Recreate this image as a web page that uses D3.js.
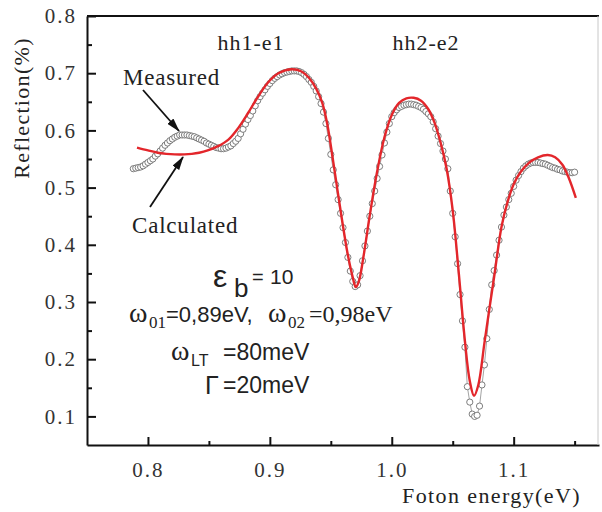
<!DOCTYPE html>
<html>
<head>
<meta charset="utf-8">
<script src="https://d3js.org/d3.v7.min.js"></script>
<style>
  body { margin: 0; background: #fff; }
</style>
</head>
<body>
<div id="main"></div>
<script>
const ctx = {
    w: 602,
    h: 512,
    left: 87,
    right: 599,
    top: 16,
    bottom: 445,
    SERIF: "'Liberation Serif', 'Times New Roman', serif",
    SANS: "'Liberation Sans', Arial, sans-serif"
};

// measured reflection (open circles)
const measEnergy = [
    0.788, 0.790, 0.792, 0.794, 0.796, 0.798, 0.800, 0.802, 0.804, 0.806,
    0.808, 0.810, 0.812, 0.814, 0.816, 0.818, 0.820, 0.822, 0.824, 0.826,
    0.828, 0.830, 0.832, 0.834, 0.836, 0.838, 0.840, 0.842, 0.844, 0.846,
    0.848, 0.850, 0.852, 0.854, 0.856, 0.858, 0.860, 0.862, 0.864, 0.866,
    0.868, 0.870, 0.872, 0.874, 0.876, 0.878, 0.880, 0.882, 0.884, 0.886,
    0.888, 0.890, 0.892, 0.894, 0.896, 0.898, 0.900, 0.902, 0.904, 0.906,
    0.908, 0.910, 0.912, 0.914, 0.916, 0.918, 0.920, 0.922, 0.924, 0.926,
    0.928, 0.930, 0.932, 0.934, 0.936, 0.938, 0.940, 0.942, 0.944, 0.946,
    0.948, 0.950, 0.952, 0.954, 0.956, 0.958, 0.960, 0.962, 0.964, 0.966,
    0.968, 0.970, 0.972, 0.974, 0.976, 0.978, 0.980, 0.982, 0.984, 0.986,
    0.988, 0.990, 0.992, 0.994, 0.996, 0.998, 1.000, 1.002, 1.004, 1.006,
    1.008, 1.010, 1.012, 1.014, 1.016, 1.018, 1.020, 1.022, 1.024, 1.026,
    1.028, 1.030, 1.032, 1.034, 1.036, 1.038, 1.040, 1.042, 1.044, 1.046,
    1.048, 1.050, 1.052, 1.054, 1.056, 1.058, 1.060, 1.062, 1.064, 1.066,
    1.068, 1.070, 1.072, 1.074, 1.076, 1.078, 1.080, 1.082, 1.084, 1.086,
    1.088, 1.090, 1.092, 1.094, 1.096, 1.098, 1.100, 1.102, 1.104, 1.106,
    1.108, 1.110, 1.112, 1.114, 1.116, 1.118, 1.120, 1.122, 1.124, 1.126,
    1.128, 1.130, 1.132, 1.134, 1.136, 1.138, 1.140, 1.142, 1.144, 1.146,
    1.148, 1.150
];
const measRefl = [
    0.533, 0.534, 0.535, 0.536, 0.538, 0.541, 0.544, 0.547, 0.550, 0.555,
    0.559, 0.564, 0.569, 0.574, 0.578, 0.582, 0.585, 0.588, 0.590, 0.592,
    0.592, 0.592, 0.592, 0.591, 0.590, 0.589, 0.587, 0.585, 0.583, 0.581,
    0.578, 0.576, 0.574, 0.572, 0.570, 0.569, 0.568, 0.568, 0.569, 0.571,
    0.573, 0.577, 0.581, 0.586, 0.594, 0.602, 0.611, 0.619, 0.626, 0.634,
    0.643, 0.652, 0.659, 0.665, 0.671, 0.677, 0.682, 0.687, 0.691, 0.694,
    0.697, 0.699, 0.701, 0.702, 0.703, 0.704, 0.704, 0.704, 0.703, 0.701,
    0.698, 0.694, 0.689, 0.684, 0.677, 0.669, 0.659, 0.647, 0.632, 0.612,
    0.586, 0.558, 0.531, 0.505, 0.479, 0.455, 0.430, 0.404, 0.378, 0.354,
    0.336, 0.327, 0.330, 0.346, 0.372, 0.398, 0.424, 0.450, 0.472, 0.494,
    0.516, 0.537, 0.557, 0.578, 0.597, 0.612, 0.624, 0.631, 0.636, 0.640,
    0.642, 0.644, 0.645, 0.646, 0.646, 0.645, 0.644, 0.642, 0.640, 0.637,
    0.633, 0.629, 0.624, 0.615, 0.603, 0.590, 0.577, 0.564, 0.550, 0.533,
    0.494, 0.455, 0.414, 0.367, 0.313, 0.267, 0.221, 0.152, 0.125, 0.104,
    0.100, 0.102, 0.118, 0.155, 0.190, 0.236, 0.287, 0.330, 0.355, 0.382,
    0.408, 0.431, 0.452, 0.466, 0.479, 0.490, 0.502, 0.513, 0.521, 0.528,
    0.534, 0.538, 0.541, 0.543, 0.544, 0.544, 0.544, 0.543, 0.542, 0.541,
    0.539, 0.537, 0.535, 0.534, 0.532, 0.531, 0.529, 0.528, 0.527, 0.526,
    0.526, 0.527
];

// calculated reflection (red line)
const calcEnergy = [
    0.791, 0.800, 0.808, 0.815, 0.822, 0.830, 0.836, 0.842, 0.849, 0.857,
    0.866, 0.874, 0.882, 0.890, 0.899, 0.907, 0.918, 0.926, 0.932, 0.938,
    0.943, 0.947, 0.952, 0.958, 0.964, 0.968, 0.9705, 0.973, 0.977, 0.982,
    0.988, 0.994, 1.000, 1.006, 1.012, 1.018, 1.024, 1.030, 1.035, 1.040,
    1.045, 1.050, 1.055, 1.060, 1.064, 1.0675, 1.071, 1.076, 1.080, 1.084,
    1.090, 1.095, 1.100, 1.106, 1.113, 1.120, 1.128, 1.134, 1.140, 1.145,
    1.151
];
const calcRefl = [
    0.570, 0.565, 0.561, 0.559, 0.558, 0.558, 0.559, 0.561, 0.565, 0.572,
    0.584, 0.604, 0.630, 0.658, 0.685, 0.700, 0.707, 0.703, 0.692, 0.673,
    0.648, 0.612, 0.545, 0.460, 0.382, 0.343, 0.326, 0.336, 0.382, 0.452,
    0.528, 0.588, 0.627, 0.648, 0.656, 0.657, 0.652, 0.637, 0.614, 0.579,
    0.533, 0.460, 0.350, 0.232, 0.162, 0.136, 0.155, 0.228, 0.287, 0.344,
    0.431, 0.475, 0.506, 0.528, 0.544, 0.553, 0.557, 0.553, 0.540, 0.518,
    0.482
];

const xTicks = [0.8, 0.9, 1.0, 1.1];
const xMinor = [0.85, 0.95, 1.05, 1.15];
const yTicks = [0.1, 0.2, 0.3, 0.4, 0.5, 0.6, 0.7, 0.8];
const yMinor = [0.15, 0.25, 0.35, 0.45, 0.55, 0.65, 0.75];

function drawAxes(g, x, y) {
    g.append("g")
        .attr("transform", `translate(0,${ctx.bottom})`)
        .call(d3.axisBottom(x).tickValues(xTicks).tickSize(-8).tickSizeOuter(0)
            .tickPadding(17).tickFormat(d3.format(".1f")));
    g.append("g")
        .attr("transform", `translate(0,${ctx.bottom})`)
        .call(d3.axisBottom(x).tickValues(xMinor).tickSize(-4).tickFormat(""))
        .select(".domain").remove();

    g.append("g")
        .attr("transform", `translate(${ctx.left},0)`)
        .call(d3.axisLeft(y).tickValues(yTicks).tickSize(-9).tickSizeOuter(0)
            .tickPadding(10).tickFormat(d3.format(".1f")));
    g.append("g")
        .attr("transform", `translate(${ctx.left},0)`)
        .call(d3.axisLeft(y).tickValues(yMinor).tickSize(-5).tickFormat(""))
        .select(".domain").remove();

    g.selectAll(".domain, .tick line")
        .attr("stroke", "#111").attr("stroke-width", 2);
    g.selectAll(".tick text")
        .style("font-family", ctx.SERIF)
        .style("font-size", "21px")
        .style("letter-spacing", "2px")
        .attr("fill", "#333");

    // frame: top and right
    g.append("line")
        .attr("x1", ctx.left).attr("x2", ctx.right)
        .attr("y1", ctx.top).attr("y2", ctx.top)
        .attr("stroke", "#111").attr("stroke-width", 2);
    g.append("line")
        .attr("x1", ctx.right - 1).attr("x2", ctx.right - 1)
        .attr("y1", ctx.top).attr("y2", ctx.bottom)
        .attr("stroke", "#c8c8c8").attr("stroke-width", 1);

    g.append("text")
        .attr("transform", `translate(29,${(ctx.top + 200) / 2}) rotate(-90)`)
        .attr("text-anchor", "middle")
        .style("font-family", ctx.SERIF)
        .style("font-size", "22px")
        .style("letter-spacing", "1.3px")
        .attr("fill", "#222")
        .text("Reflection(%)");
    g.append("text")
        .attr("x", 402).attr("y", 503)
        .style("font-family", ctx.SERIF)
        .style("font-size", "22px")
        .style("letter-spacing", "1.4px")
        .attr("fill", "#222")
        .text("Foton energy(eV)");
}

function drawAnnotations(svg) {
    const defs = svg.append("defs");
    defs.append("marker")
        .attr("id", "head")
        .attr("viewBox", "0 0 14 8")
        .attr("refX", 13).attr("refY", 4)
        .attr("markerWidth", 14).attr("markerHeight", 8)
        .attr("markerUnits", "userSpaceOnUse")
        .attr("orient", "auto")
        .append("path").attr("d", "M0,0 L14,4 L0,8 Z").attr("fill", "#111");

    svg.append("line").attr("x1", 143).attr("y1", 90).attr("x2", 179).attr("y2", 131)
        .attr("stroke", "#111").attr("stroke-width", 1.8).attr("marker-end", "url(#head)");
    svg.append("line").attr("x1", 150).attr("y1", 207).attr("x2", 183).attr("y2", 157)
        .attr("stroke", "#111").attr("stroke-width", 1.8).attr("marker-end", "url(#head)");

    const label = (fam, x, y, size, txt, anchor) => svg.append("text")
        .attr("x", x).attr("y", y)
        .attr("text-anchor", anchor || "start")
        .attr("fill", "#222")
        .style("font-family", fam)
        .style("font-size", size + "px").text(txt);
    const serif = (x, y, size, txt, anchor) => label(ctx.SERIF, x, y, size, txt, anchor);
    const sans = (x, y, size, txt) => label(ctx.SANS, x, y, size, txt);

    serif(251, 50, 22, "hh1-e1", "middle").style("letter-spacing", "1px");
    serif(426, 50, 22, "hh2-e2", "middle").style("letter-spacing", "1px");
    serif(123, 85, 23, "Measured").style("letter-spacing", "0.8px");
    serif(132, 233, 23, "Calculated").style("letter-spacing", "0.8px");

    // parameters
    sans(213, 287, 32, "ε");
    sans(234, 297, 26, "b");
    sans(252, 284, 20, "=");
    sans(270, 284, 21, "10");

    serif(129, 322, 28, "ω");
    serif(149, 328, 17, "01");
    sans(166, 322, 22, "=0,89eV,");
    serif(268, 322, 28, "ω");
    serif(288, 328, 17, "02");
    serif(309, 322, 24, "=0,98eV");

    serif(171, 360, 28, "ω");
    sans(191, 366, 16, "LT");
    sans(223, 360, 23, "=80meV");

    sans(205, 394, 25, "Γ");
    sans(223, 393, 23, "=20meV");
}

function createViz() {
    const svgEl = d3.select("#main").append("svg")
        .attr("width", ctx.w)
        .attr("height", ctx.h);
    const rootG = svgEl.append("g").attr("id", "rootG");

    const x = d3.scaleLinear().domain([0.75, 1.17]).range([ctx.left, ctx.right]);
    const y = d3.scaleLinear().domain([0.05, 0.8]).range([ctx.bottom, ctx.top]);

    drawAxes(rootG.append("g").attr("id", "bkgG"), x, y);

    const meas = measEnergy.map((e, i) => ({ e: e, r: measRefl[i] }));
    const calc = calcEnergy.map((e, i) => ({ e: e, r: calcRefl[i] }));

    const dataG = rootG.append("g");
    dataG.append("path")
        .datum(meas)
        .attr("fill", "none")
        .attr("stroke", "#8c8c8c")
        .attr("stroke-width", 0.8)
        .attr("d", d3.line().x(d => x(d.e)).y(d => y(d.r)));
    dataG.selectAll("circle")
        .data(meas)
        .enter().append("circle")
        .attr("cx", d => x(d.e))
        .attr("cy", d => y(d.r))
        .attr("r", 3.1)
        .attr("fill", "#fff")
        .attr("stroke", "#6e6e6e")
        .attr("stroke-width", 0.9);

    dataG.append("path")
        .datum(calc)
        .attr("fill", "none")
        .attr("stroke", "#e3262b")
        .attr("stroke-width", 2.4)
        .attr("d", d3.line().curve(d3.curveCatmullRom.alpha(0.5)).x(d => x(d.e)).y(d => y(d.r)));

    drawAnnotations(rootG);
}

createViz();
</script>
</body>
</html>
